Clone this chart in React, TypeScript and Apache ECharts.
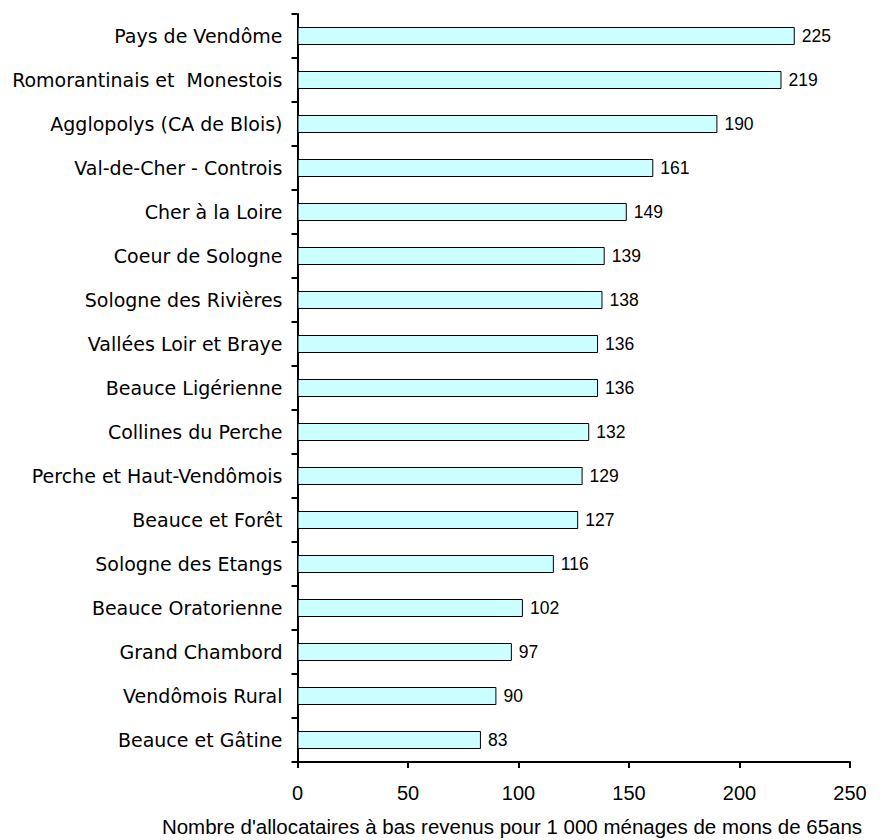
import React, { useEffect, useRef } from "react";
import * as echarts from "echarts";

const categories = [
  "Pays de Vendôme",
  "Romorantinais et  Monestois",
  "Agglopolys (CA de Blois)",
  "Val-de-Cher - Controis",
  "Cher à la Loire",
  "Coeur de Sologne",
  "Sologne des Rivières",
  "Vallées Loir et Braye",
  "Beauce Ligérienne",
  "Collines du Perche",
  "Perche et Haut-Vendômois",
  "Beauce et Forêt",
  "Sologne des Etangs",
  "Beauce Oratorienne",
  "Grand Chambord",
  "Vendômois Rural",
  "Beauce et Gâtine",
];
const values = [225, 219, 190, 161, 149, 139, 138, 136, 136, 132, 129, 127, 116, 102, 97, 90, 83];
const axisTitle = "Nombre d'allocataires à bas revenus pour 1 000 ménages de mons de 65ans";

const FONT = "'Liberation Sans', Arial, sans-serif";
const WIDE = "'DejaVu Sans', sans-serif";

export default function App() {
  const ref = useRef<HTMLDivElement>(null);
  useEffect(() => {
    const chart = echarts.init(ref.current!, null, { renderer: "svg" });
    chart.setOption({
      animation: false,
      backgroundColor: "#ffffff",
      grid: { left: 297.5, right: 40, top: 14, bottom: 78, containLabel: false },
      xAxis: {
        type: "value",
        min: 0,
        max: 250,
        interval: 50,
        splitLine: { show: false },
        axisLine: { show: true, lineStyle: { color: "#000", width: 2 } },
        axisTick: { show: true, length: 6, lineStyle: { color: "#000", width: 2 } },
        axisLabel: { color: "#000", fontSize: 20, fontFamily: FONT, margin: 21 },
      },
      yAxis: {
        type: "category",
        data: categories,
        inverse: true,
        axisLine: { show: true, lineStyle: { color: "#000", width: 2 } },
        axisTick: { show: true, length: 6, lineStyle: { color: "#000", width: 2 } },
        axisLabel: { color: "#000", fontSize: 19, fontFamily: WIDE, margin: 15 },
      },
      graphic: [
        {
          type: "text",
          x: 512,
          y: 826,
          style: {
            text: axisTitle,
            fill: "#000",
            fontSize: 20.5,
            fontFamily: FONT,
            textAlign: "center",
            textVerticalAlign: "middle",
          },
        },
      ],
      series: [
        {
          type: "bar",
          data: values,
          barWidth: 18,
          itemStyle: { color: "#CCFFFF", borderColor: "#000", borderWidth: 1 },
          label: {
            show: true,
            position: "right",
            distance: 7,
            color: "#000",
            fontSize: 17.5,
            fontFamily: FONT,
          },
        },
      ],
    });
    return () => chart.dispose();
  }, []);
  return <div ref={ref} style={{ width: 890, height: 840, position: "absolute", left: 0, top: 0 }} />;
}
